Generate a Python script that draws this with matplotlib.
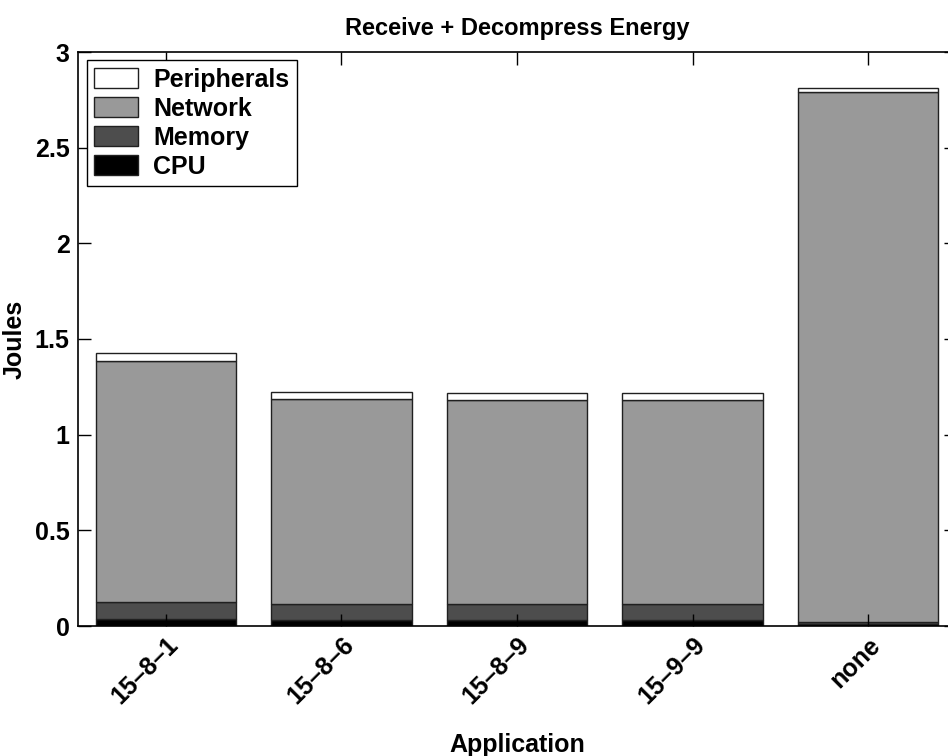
import matplotlib
matplotlib.use("Agg")
from matplotlib import pyplot as plt
import numpy as np

# data
apps = ['15–8–1', '15–8–6', '15–8–9', '15–9–9', 'none']
cpu = [0.037, 0.031, 0.031, 0.030, 0.012]
memory = [0.087, 0.082, 0.082, 0.083, 0.010]
network = [1.261, 1.072, 1.067, 1.067, 2.768]
peripherals = [0.044, 0.037, 0.040, 0.040, 0.024]

layers = [('CPU', cpu, '#000000'),
          ('Memory', memory, '#4d4d4d'),
          ('Network', network, '#999999'),
          ('Peripherals', peripherals, '#ffffff')]

plt.rcParams['font.family'] = ['Liberation Sans', 'DejaVu Sans']
plt.rcParams['font.weight'] = 'bold'
plt.rcParams['font.size'] = 18

fig = plt.figure(figsize=(9.48, 7.56), dpi=100)
ax = fig.add_axes([78 / 948, 130 / 756, 878 / 948, 574 / 756])

x = np.arange(1, len(apps) + 1)
bottom = np.zeros(len(apps))
handles = {}
for name, vals, col in layers:
    vals = np.array(vals)
    bars = ax.bar(x, vals, width=0.8, bottom=bottom, color=col,
                  edgecolor='#202020', linewidth=1.0, label=name)
    handles[name] = bars
    bottom = bottom + vals

ax.set_xlim(0.5, 5.5)
ax.set_ylim(0, 3)
ax.set_yticks([0, 0.5, 1, 1.5, 2, 2.5, 3])
ax.set_yticklabels(['0', '0.5', '1', '1.5', '2', '2.5', '3'])
ax.set_xticks(x)
ax.set_xticklabels(apps, rotation=45, ha='right', va='top',
                   rotation_mode='anchor')

ax.tick_params(direction='in', length=9, width=1, top=True, right=True,
               labelsize=18)
ax.tick_params(axis='x', pad=5)
ax.tick_params(axis='y', pad=6)
for sp in ax.spines.values():
    sp.set_linewidth(1.2)

ax.set_title('Receive + Decompress Energy', fontsize=17, fontweight='bold',
             pad=12)
ax.set_xlabel('Application', fontsize=18, fontweight='bold', labelpad=17)
ax.set_ylabel('Joules', fontsize=18, fontweight='bold', labelpad=6)

order = ['Peripherals', 'Network', 'Memory', 'CPU']
leg = ax.legend([handles[n] for n in order], order, loc='upper left',
                bbox_to_anchor=(0.01, 0.986), borderaxespad=0,
                fancybox=False, framealpha=1, edgecolor='black',
                handlelength=1.75, handleheight=0.85, labelspacing=0.2,
                handletextpad=0.6, borderpad=0.3, fontsize=18)
leg.get_frame().set_linewidth(1.0)

fig.savefig('out.png', dpi=100)
